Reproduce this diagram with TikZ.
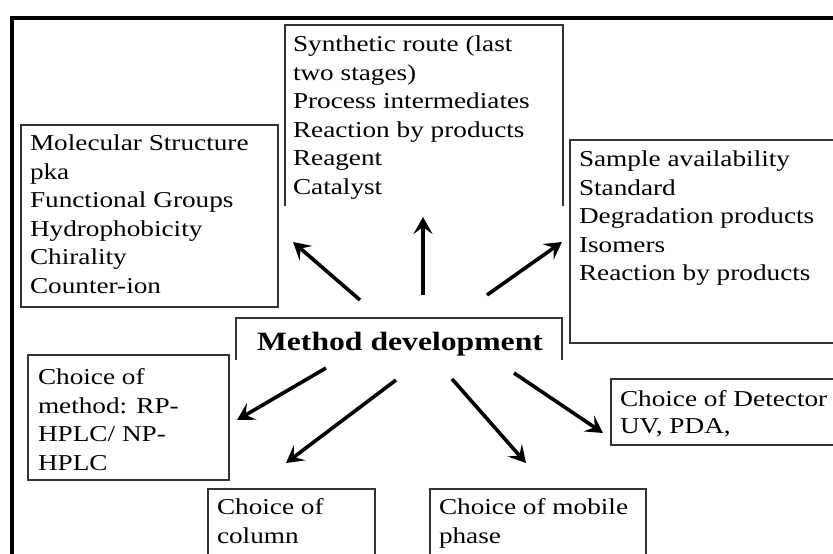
\documentclass[tikz,border=0pt]{standalone}
\usepackage{fontspec}
\newfontfamily\diagfont[FakeStretch=1.2]{Liberation Serif}
\usetikzlibrary{arrows.meta}
\begin{document}
\begin{tikzpicture}[x=1pt,y=-1pt,
  frame/.style={line width=4pt,black},
  boxshape/.style={draw=black!80,line width=1.3pt,inner sep=0pt,outer sep=0pt,rectangle},
  openbox/.style={draw=none,inner sep=0pt,outer sep=0pt,rectangle},
  txt/.style={inner sep=0pt,outer sep=0pt,align=left,anchor=north west,
    font=\diagfont\fontsize{22.7}{28.5}\selectfont},
  bigtxt/.style={inner sep=0pt,outer sep=0pt,anchor=base west,
    font=\diagfont\bfseries\fontsize{26.4}{30}\selectfont},
  arr/.style={line width=3.6pt,-{Stealth[length=17pt,width=19pt,inset=7pt]}}
]
\useasboundingbox (0,0) rectangle (833,554);
\fill[white] (0,0) rectangle (833,554);
% outer frame
\coordinate (f1) at (12,560);
\coordinate (f2) at (12,17.5);
\coordinate (f3) at (840,17.5);
\draw[frame] (f1) -- (f2) -- (f3);

% boxes
\node[boxshape,minimum width=257pt,minimum height=182pt,anchor=north west] (mol) at (21,125) {};
\node[openbox,minimum width=278pt,minimum height=181pt,anchor=north west] (syn) at (285,25) {};
\draw[draw=black!80,line width=1.3pt] (syn.south west) -- (syn.north west) -- (syn.north east) -- (syn.south east);
\node[boxshape,minimum width=270pt,minimum height=203pt,anchor=north west] (sam) at (570,140) {};
\node[openbox,minimum width=326pt,minimum height=42pt,anchor=north west] (md) at (236,318) {};
\draw[draw=black!80,line width=1.3pt] (md.south west) -- (md.north west) -- (md.north east) -- (md.south east);
\node[boxshape,minimum width=201pt,minimum height=125pt,anchor=north west] (cm) at (28,355) {};
\node[boxshape,minimum width=167pt,minimum height=75pt,anchor=north west] (cc) at (208,489) {};
\node[boxshape,minimum width=216pt,minimum height=75pt,anchor=north west] (cp) at (430,489) {};
\node[boxshape,minimum width=229pt,minimum height=66pt,anchor=north west] (cd) at (611,379) {};

% texts
\node[txt] (moltxt) at (30,135) {Molecular Structure\\pka\\Functional Groups\\Hydrophobicity\\Chirality\\Counter-ion};
\node[txt] (syntxt) at (293,36) {Synthetic route (last\\two stages)\\Process intermediates\\Reaction by products\\Reagent\\Catalyst};
\node[txt] (samtxt) at (579,151) {Sample availability\\Standard\\Degradation products\\Isomers\\Reaction by products};
\node[bigtxt] (mdtxt) at (257,350) {Method development};
\node[txt] (cmtxt) at (38,369) {Choice of\\method: RP-\\HPLC/ NP-\\HPLC};
\node[txt] (cctxt) at (217,499) {Choice of\\column};
\node[txt] (cptxt) at (439,499) {Choice of mobile\\phase};
\node[txt,font=\diagfont\fontsize{22.7}{27}\selectfont] (cdtxt) at (620,391) {Choice of Detector\\UV, PDA,};

% arrow ends
\coordinate (a1s) at (360,300); \coordinate (a1e) at (293,242);
\coordinate (a2s) at (423,295); \coordinate (a2e) at (423,217);
\coordinate (a3s) at (487,295); \coordinate (a3e) at (562,242);
\coordinate (a4s) at (326,368); \coordinate (a4e) at (237,420);
\coordinate (a5s) at (396,380); \coordinate (a5e) at (286,463);
\coordinate (a6s) at (452,379); \coordinate (a6e) at (526,463);
\coordinate (a7s) at (514,373); \coordinate (a7e) at (603,433);
\draw[arr] (a1s) -- (a1e);
\draw[arr] (a2s) -- (a2e);
\draw[arr] (a3s) -- (a3e);
\draw[arr] (a4s) -- (a4e);
\draw[arr] (a5s) -- (a5e);
\draw[arr] (a6s) -- (a6e);
\draw[arr] (a7s) -- (a7e);
\end{tikzpicture}
\end{document}
